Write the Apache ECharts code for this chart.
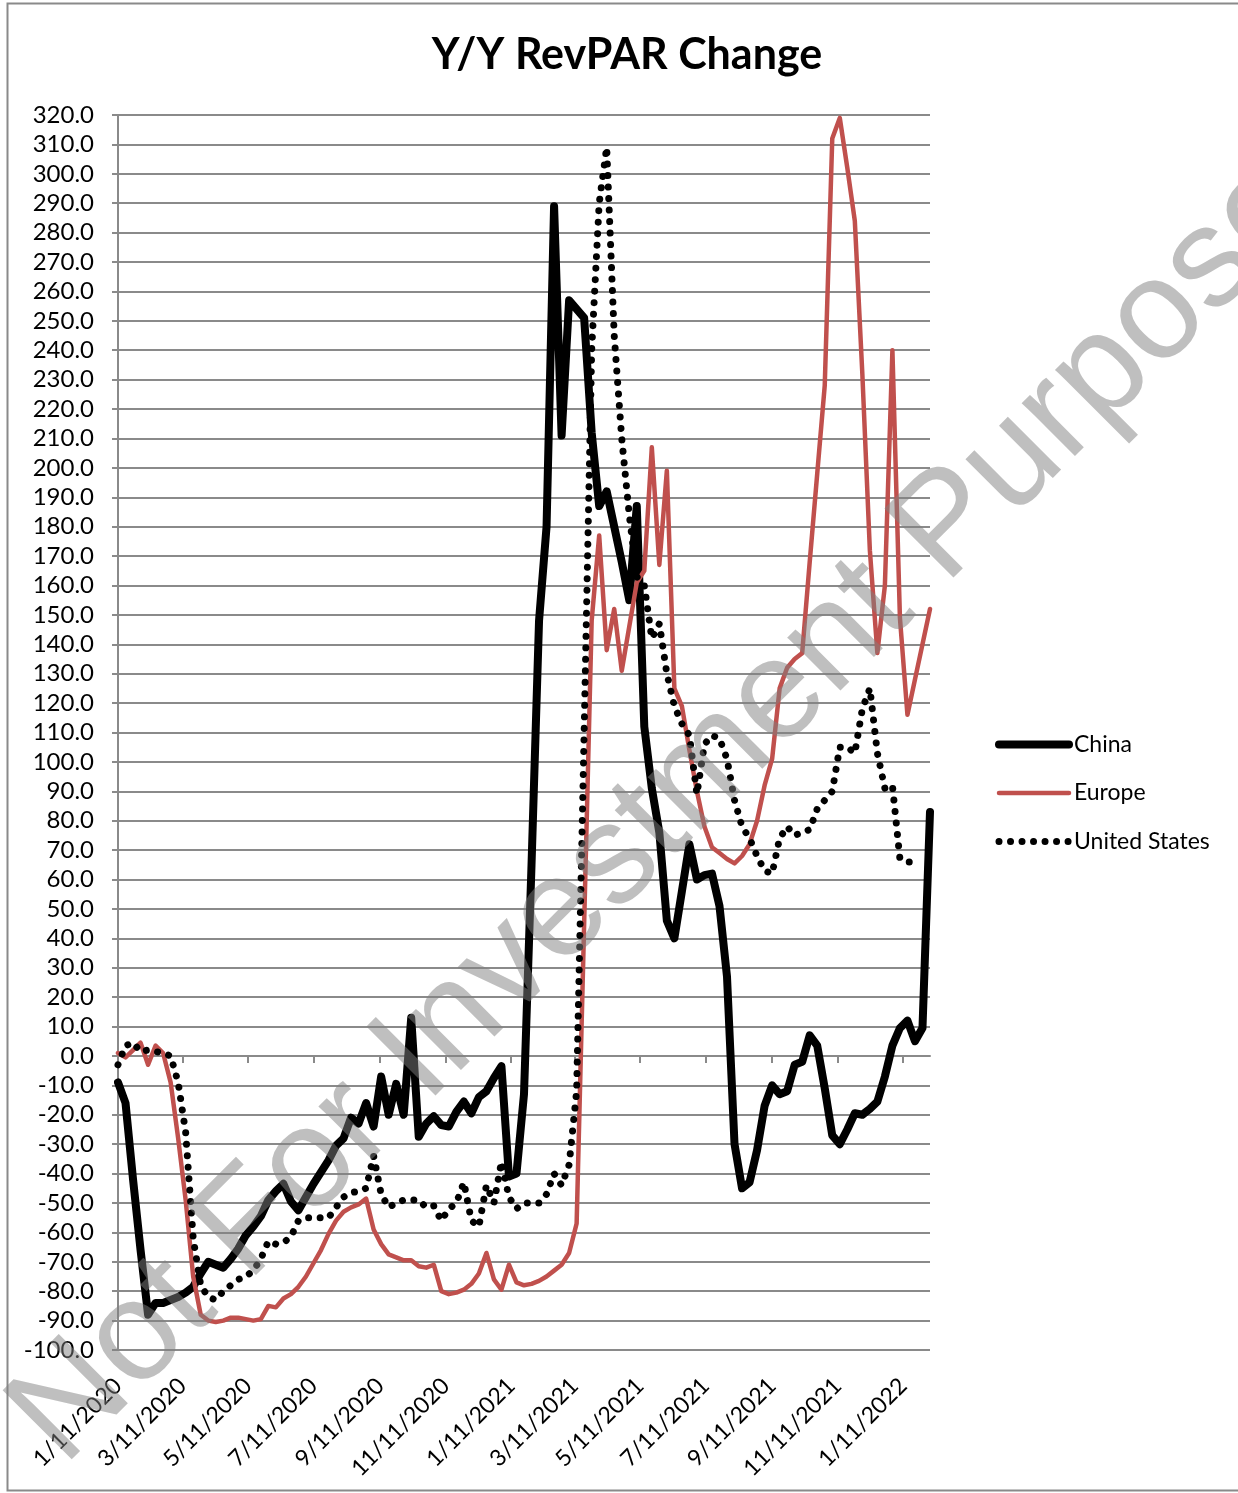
<!DOCTYPE html>
<html>
<head>
<meta charset="utf-8">
<title>Y/Y RevPAR Change</title>
<script src="https://cdn.jsdelivr.net/npm/echarts@6/dist/echarts.min.js"></script>
<style>
  html, body { margin: 0; padding: 0; background: #fff; }
  #chart { width: 1238px; height: 1493px; }
</style>
</head>
<body>
<div id="chart"></div>
<script>
// Weekly Y/Y RevPAR change (%), weeks ending Saturday, from 11 Jan 2020.
const firstWeek = Date.UTC(2020, 0, 11);
const weekCount = 109;

const china = [
  -9, -16, -42, -66, -88, -84, -84, -83, -82, -80.5,
  -78.5, -74, -70, -71, -72, -69, -65.5, -61, -58, -54.5,
  -49, -46, -43.5, -49.5, -52.5, -48, -43.5, -39.5, -35.5, -30.5,
  -28, -21, -23, -16, -24, -7, -20, -9.5, -20, 13,
  -27.5, -23, -20.5, -23.5, -24, -19, -15.5, -19.5, -14, -12,
  -7.5, -3.5, -41, -40, -13, 65, 148, 180, 289, 211,
  257, 254, 251, 212, 187, 192, 180, 168, 155, 187,
  112, 91, 76, 46, 40, 56, 72, 60, 61.5, 62,
  51, 27, -30, -45, -43, -32, -17, -10, -13, -12,
  -3, -2, 7, 3.5, -11, -27, -30, -25, -19.5, -20,
  -18, -15.5, -7, 3.5, 9.5, 12, 5, 9.5, 83
];

const europe = [
  1, -0.5, 2, 4.5, -3, 3.5, 1, -9, -28, -49,
  -75, -88, -90, -90.5, -90, -89, -89, -89.5, -90, -89.5,
  -85, -85.5, -82.5, -81, -78.5, -75, -70.5, -66, -60.5, -56,
  -53, -51.5, -50.5, -48.5, -59, -64, -67.5, -68.5, -69.5, -69.5,
  -71.5, -72, -71, -80, -81, -80.5, -79.5, -77.5, -74, -67,
  -76, -79.5, -71, -77, -78, -77.5, -76.5, -75, -73, -71,
  -67, -57, 45, 148, 177, 138, 152, 131, 146, 161,
  165, 207, 167, 199, 125, 119, 104, 90, 78, 71,
  69, 67, 65.5, 68, 72, 80, 92, 101, 125, 132,
  135, 137, 168, 198, 228, 312, 319, 302, 284, 232,
  172, 137, 160, 240, 149, 116, 128, 140, 152
];

const unitedStates = [
  -3, 3.5, 4.5, 1.5, 2, 1.5, 1, 0, -9, -26,
  -62, -78, -82, -83, -80, -78, -76, -75, -73, -69,
  -63, -64, -63.5, -61.5, -56, -55, -55, -55, -55, -51.5,
  -48, -46.5, -46, -45, -34, -47, -51.5, -50, -49, -49,
  -49, -51.5, -51, -56, -52, -50, -43, -56, -58, -44,
  -50, -36, -48, -52, -50, -50, -50, -47, -40, -44,
  -37, -12, 110, 240, 290, 309, 245, 210, 184, 163,
  160, 142, 147, 130, 119, 113, 109, 89, 106, 109,
  108, 101, 87, 78, 74, 68, 63, 62, 74, 78,
  75, 76, 77, 84, 87, 90, 105, 105, 103, 118,
  125, 103, 91, 92, 67, 66, 66, null, null
];

// Date labels on the horizontal axis (every two months)
const tickDates = [
  [2020, 1, 11], [2020, 3, 11], [2020, 5, 11], [2020, 7, 11], [2020, 9, 11],
  [2020, 11, 11], [2021, 1, 11], [2021, 3, 11], [2021, 5, 11], [2021, 7, 11],
  [2021, 9, 11], [2021, 11, 11], [2022, 1, 11]
];

const weeks = [];
for (let i = 0; i < weekCount; i++) weeks.push(firstWeek + i * 7 * 86400000);
const tickValues = tickDates.map(d => Date.UTC(d[0], d[1] - 1, d[2]));

const pair = (vals) => weeks.map((t, i) => [t, vals[i]]);
const fmtDate = (v) => {
  const d = new Date(v);
  return (d.getUTCMonth() + 1) + '/' + d.getUTCDate() + '/' + d.getUTCFullYear();
};

const FONT = 'Lato, "Open Sans", sans-serif';
const GRID_COLOR = '#8a8a8a';

const chart = echarts.init(document.getElementById('chart'), null, { renderer: 'canvas' });

chart.setOption({
  animation: false,
  backgroundColor: '#ffffff',
  textStyle: { fontFamily: FONT },
  title: {
    text: 'Y/Y RevPAR Change',
    left: 622,
    textAlign: 'center',
    top: 29,
    textStyle: { fontFamily: FONT, fontWeight: 'bold', fontSize: 43, color: '#000' }
  },
  legend: {
    orient: 'vertical',
    left: 995,
    top: 732,
    padding: 0,
    itemWidth: 70,
    itemHeight: 14,
    itemGap: 23.5,
    itemStyle: { opacity: 0 },
    lineStyle: { width: 'inherit', type: 'inherit', cap: 'round', join: 'round' },
    textStyle: { fontFamily: FONT, fontSize: 23, color: '#000', lineHeight: 25 },
    data: ['China', 'Europe', 'United States']
  },
  grid: { left: 118, right: 308, top: 115, bottom: 143, containLabel: false },
  xAxis: [
    {
      type: 'value',
      min: weeks[0],
      max: weeks[weeks.length - 1],
      position: 'bottom',
      axisLine: { show: false, onZero: false },
      axisTick: { show: false },
      splitLine: { show: false },
      axisLabel: {
        customValues: tickValues,
        formatter: fmtDate,
        rotate: 45,
        margin: 32,
        fontFamily: FONT,
        fontSize: 23,
        color: '#000',
        hideOverlap: false
      }
    },
    {
      type: 'value',
      min: weeks[0],
      max: weeks[weeks.length - 1],
      position: 'bottom',
      axisLine: { show: true, onZero: true, lineStyle: { color: GRID_COLOR, width: 2 } },
      axisTick: { show: true, customValues: tickValues, length: 7, lineStyle: { color: GRID_COLOR, width: 2 } },
      axisLabel: { show: false },
      splitLine: { show: false }
    }
  ],
  yAxis: {
    type: 'value',
    min: -100,
    max: 320,
    interval: 10,
    axisLine: { show: true, lineStyle: { color: GRID_COLOR, width: 2 } },
    axisTick: { show: true, length: 6, lineStyle: { color: GRID_COLOR, width: 2 } },
    splitLine: { show: true, lineStyle: { color: GRID_COLOR, width: 2 } },
    axisLabel: {
      formatter: (v) => v.toFixed(1),
      fontFamily: FONT,
      fontSize: 24,
      color: '#000',
      margin: 24
    }
  },
  series: [
    {
      name: 'China',
      type: 'line',
      data: pair(china),
      symbol: 'none',
      color: '#000000',
      lineStyle: { color: '#000000', width: 8, cap: 'round', join: 'round' }
    },
    {
      name: 'Europe',
      type: 'line',
      data: pair(europe),
      symbol: 'none',
      color: '#C0504D',
      lineStyle: { color: '#C0504D', width: 4.5, cap: 'round', join: 'round' }
    },
    {
      name: 'United States',
      type: 'line',
      data: pair(unitedStates),
      symbol: 'none',
      connectNulls: false,
      color: '#000000',
      lineStyle: { color: '#000000', width: 7, type: [0.01, 11.5], cap: 'round', join: 'round' }
    }
  ],
  graphic: [
    {
      type: 'rect',
      z: 100,
      silent: true,
      shape: { x: 7.5, y: 3.5, width: 1240, height: 1487 },
      style: { fill: null, stroke: '#8a8a8a', lineWidth: 2 }
    },
    {
      type: 'text',
      z: 100,
      silent: true,
      x: 86,
      y: 1490,
      rotation: Math.PI / 4,
      style: {
        text: 'Not For Investment Purposes',
        font: '142px "Liberation Sans", Arial, sans-serif',
        fill: 'rgba(128,128,128,0.5)',
        textAlign: 'left',
        textVerticalAlign: 'bottom'
      }
    }
  ]
});
</script>
</body>
</html>
